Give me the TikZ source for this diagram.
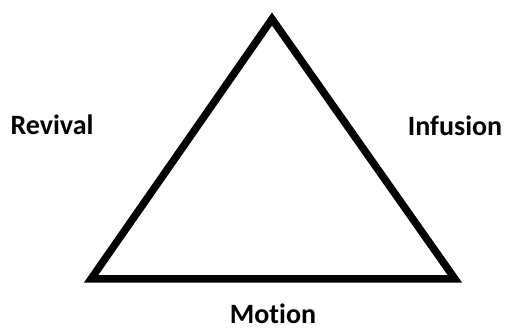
\documentclass[tikz,border=0pt]{standalone}
\usepackage{fontspec}
\setmainfont[Ligatures=NoCommon]{Carlito}
\begin{document}
\begin{tikzpicture}[x=1pt,y=-1pt,
  lbl/.style={font=\bfseries\fontsize{28}{33}\selectfont, anchor=base, inner sep=0pt},
  tri/.style={line width=7.5pt, line join=miter, black}]
\useasboundingbox (0,0) rectangle (507,331);
\coordinate (top) at (272,19);
\coordinate (bl) at (91,279);
\coordinate (br) at (455,279);
\draw[tri] (top) -- (bl) -- (br) -- cycle;
\node[lbl] (revival) at (52,135) {Revival};
\node[lbl] (infusion) at (455,136) {Infusion};
\node[lbl] (motion) at (273,324) {Motion};
\end{tikzpicture}
\end{document}
